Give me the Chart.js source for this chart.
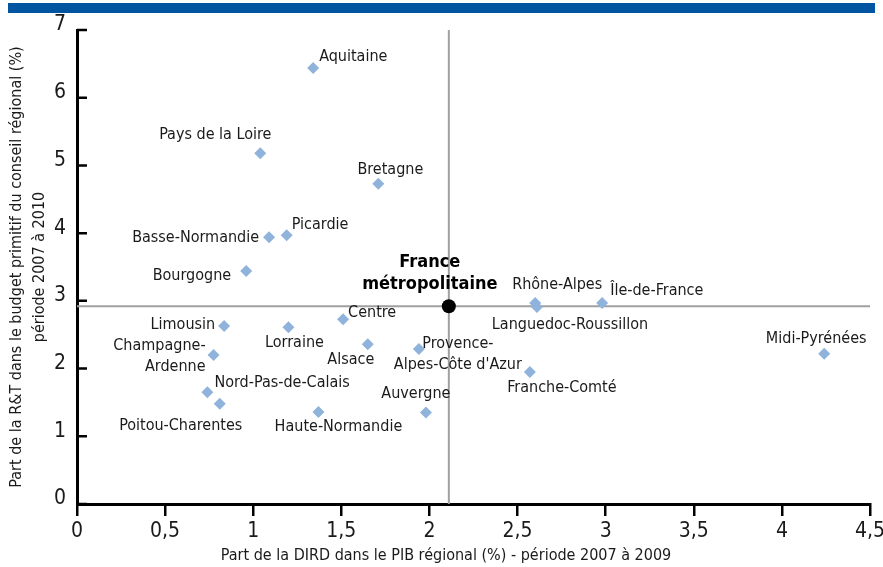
<!DOCTYPE html>
<html>
<head>
<meta charset="utf-8">
<script src="https://cdn.jsdelivr.net/npm/chart.js@4/dist/chart.umd.min.js"></script>
<style>
  html, body { margin: 0; padding: 0; background: #fff; }
  #wrap { position: relative; width: 883px; height: 567px; }
  #topbar { position: absolute; left: 8px; top: 3px; width: 867px; height: 10px; background: #0054a0; }
</style>
</head>
<body>
<div id="wrap">
  <div id="topbar"></div>
  <canvas id="chart" width="883" height="567"></canvas>
</div>
<script>
// data
const regions = [
  'Aquitaine', 'Pays de la Loire', 'Bretagne', 'Picardie', 'Basse-Normandie',
  'Bourgogne', 'Limousin', 'Lorraine', 'Centre', 'Alsace',
  'Champagne-Ardenne', 'Nord-Pas-de-Calais', 'Poitou-Charentes', 'Haute-Normandie', 'Auvergne',
  'Provence-Alpes-Côte d\'Azur', 'Rhône-Alpes', 'Languedoc-Roussillon', 'Île-de-France', 'Midi-Pyrénées',
  'Franche-Comté'
];
const dirdPib = [
  1.34, 1.04, 1.71, 1.19, 1.09,
  0.96, 0.835, 1.20, 1.51, 1.65,
  0.775, 0.74, 0.81, 1.37, 1.98,
  1.94, 2.60, 2.61, 2.98, 4.24,
  2.57
];
const rtBudget = [
  6.44, 5.18, 4.73, 3.97, 3.94,
  3.44, 2.63, 2.61, 2.73, 2.36,
  2.20, 1.65, 1.48, 1.36, 1.35,
  2.29, 2.97, 2.91, 2.97, 2.22,
  1.95
];
const franceX = 2.11;
const franceY = 2.92;
const xTicks = ['0', '0,5', '1', '1,5', '2', '2,5', '3', '3,5', '4', '4,5'];
const yTicks = ['0', '1', '2', '3', '4', '5', '6', '7'];

const FONT = "'Liberation Sans Narrow', 'DejaVu Sans Condensed', 'Arial Narrow', sans-serif";

// where each label sits relative to its point
const labelPlace = {
  'Aquitaine': { dx: 6, dy: -11, align: 'left' },
  'Pays de la Loire': { dx: -45, dy: -18, align: 'center' },
  'Bretagne': { dx: 12, dy: -14, align: 'center' },
  'Picardie': { dx: 5, dy: -10, align: 'left' },
  'Basse-Normandie': { dx: -10, dy: 1, align: 'right' },
  'Bourgogne': { dx: -15, dy: 5, align: 'right' },
  'Limousin': { dx: -9, dy: -1, align: 'right' },
  'Lorraine': { dx: 6, dy: 16, align: 'center' },
  'Centre': { dx: 5, dy: -6, align: 'left' },
  'Alsace': { dx: -17, dy: 16, align: 'center' },
  'Champagne-Ardenne': { dx: -8, dy: -9, align: 'right', lines: ['Champagne-', 'Ardenne'] },
  'Nord-Pas-de-Calais': { dx: 7, dy: -9, align: 'left' },
  'Poitou-Charentes': { dx: -39, dy: 22, align: 'center' },
  'Haute-Normandie': { dx: 20, dy: 15, align: 'center' },
  'Auvergne': { dx: -10, dy: -19, align: 'center' },
  'Provence-Alpes-Côte d\'Azur': { dx: 39, dy: -5, align: 'center', lines: ['Provence-', 'Alpes-Côte d\'Azur'] },
  'Rhône-Alpes': { dx: 22, dy: -18, align: 'center' },
  'Languedoc-Roussillon': { dx: 33, dy: 18, align: 'center' },
  'Île-de-France': { dx: 8, dy: -12, align: 'left' },
  'Midi-Pyrénées': { dx: -8, dy: -15, align: 'center' },
  'Franche-Comté': { dx: 32, dy: 16, align: 'center' }
};

const overlay = {
  id: 'overlay',
  beforeDatasetsDraw(chart) {
    const { ctx, scales: { x, y } } = chart;
    const a = chart.chartArea;
    ctx.save();
    // reference lines through France métropolitaine
    ctx.strokeStyle = '#a0a0a0';
    ctx.lineWidth = 2;
    ctx.beginPath();
    ctx.moveTo(x.getPixelForValue(franceX), a.top);
    ctx.lineTo(x.getPixelForValue(franceX), a.bottom);
    ctx.moveTo(a.left, y.getPixelForValue(franceY));
    ctx.lineTo(a.right, y.getPixelForValue(franceY));
    ctx.stroke();
    // inward y ticks
    ctx.strokeStyle = '#000';
    ctx.lineWidth = 2.5;
    ctx.beginPath();
    for (let v = 0; v < yTicks.length; v++) {
      const py = y.getPixelForValue(v);
      ctx.moveTo(a.left, py);
      ctx.lineTo(a.left + 10, py);
    }
    ctx.stroke();
    ctx.restore();
  },
  afterDatasetsDraw(chart) {
    const { ctx } = chart;
    const meta = chart.getDatasetMeta(0);
    ctx.save();
    ctx.fillStyle = '#1a1a1a';
    ctx.font = '16px ' + FONT;
    ctx.textBaseline = 'middle';
    regions.forEach((name, i) => {
      const p = meta.data[i];
      const pl = labelPlace[name];
      ctx.textAlign = pl.align;
      const lines = pl.lines || [name];
      lines.forEach((t, k) => ctx.fillText(t, p.x + pl.dx, p.y + pl.dy + k * 21));
    });
    // France label
    const f = chart.getDatasetMeta(1).data[0];
    ctx.font = 'bold 18px ' + FONT;
    ctx.fillStyle = '#000';
    ctx.textAlign = 'center';
    ctx.fillText('France', f.x - 19, f.y - 44);
    ctx.fillText('métropolitaine', f.x - 19, f.y - 22);
    // axis titles
    ctx.font = '16px ' + FONT;
    ctx.fillStyle = '#1a1a1a';
    ctx.fillText('Part de la DIRD dans le PIB régional (%) - période 2007 à 2009', 446, 556);
    ctx.translate(0, 267);
    ctx.rotate(-Math.PI / 2);
    ctx.fillText('Part de la R&T dans le budget primitif du conseil régional (%)', 0, 17);
    ctx.fillText('période 2007 à 2010', 0, 40);
    ctx.restore();
  }
};

new Chart(document.getElementById('chart'), {
  type: 'scatter',
  data: {
    datasets: [
      {
        label: 'Régions',
        data: regions.map((r, i) => ({ x: dirdPib[i], y: rtBudget[i] })),
        pointStyle: 'rectRot',
        pointRadius: 6,
        pointBackgroundColor: '#8fb3da',
        pointBorderWidth: 0
      },
      {
        label: 'France métropolitaine',
        data: [{ x: franceX, y: franceY }],
        pointStyle: 'circle',
        pointRadius: 7,
        pointBackgroundColor: '#000',
        pointBorderWidth: 0
      }
    ]
  },
  options: {
    responsive: false,
    animation: false,
    layout: { padding: { left: 0, top: 30, right: 0, bottom: 0 } },
    plugins: { legend: { display: false }, tooltip: { enabled: false } },
    scales: {
      x: {
        type: 'linear',
        min: 0,
        max: 4.5,
        afterFit: s => { s.height = 63; s.paddingRight = 13; s.paddingLeft = 0; },
        afterBuildTicks: s => { s.ticks = xTicks.map((t, i) => ({ value: i * 0.5 })); },
        ticks: {
          padding: 3,
          color: '#1a1a1a',
          font: { family: FONT, size: 21 },
          callback: (v, i) => xTicks[i]
        },
        grid: { drawOnChartArea: false, color: '#000', lineWidth: 2.5, tickLength: 12 },
        border: { color: '#000', width: 3 }
      },
      y: {
        type: 'linear',
        min: 0,
        max: 7,
        afterFit: s => { s.width = 77; },
        afterBuildTicks: s => { s.ticks = yTicks.map((t, i) => ({ value: i })); },
        ticks: {
          padding: 11,
          labelOffset: -5,
          color: '#1a1a1a',
          font: { family: FONT, size: 21 },
          callback: (v, i) => yTicks[i]
        },
        grid: { drawOnChartArea: false, drawTicks: false },
        border: { color: '#000', width: 3 }
      }
    }
  },
  plugins: [overlay]
});
</script>
</body>
</html>
